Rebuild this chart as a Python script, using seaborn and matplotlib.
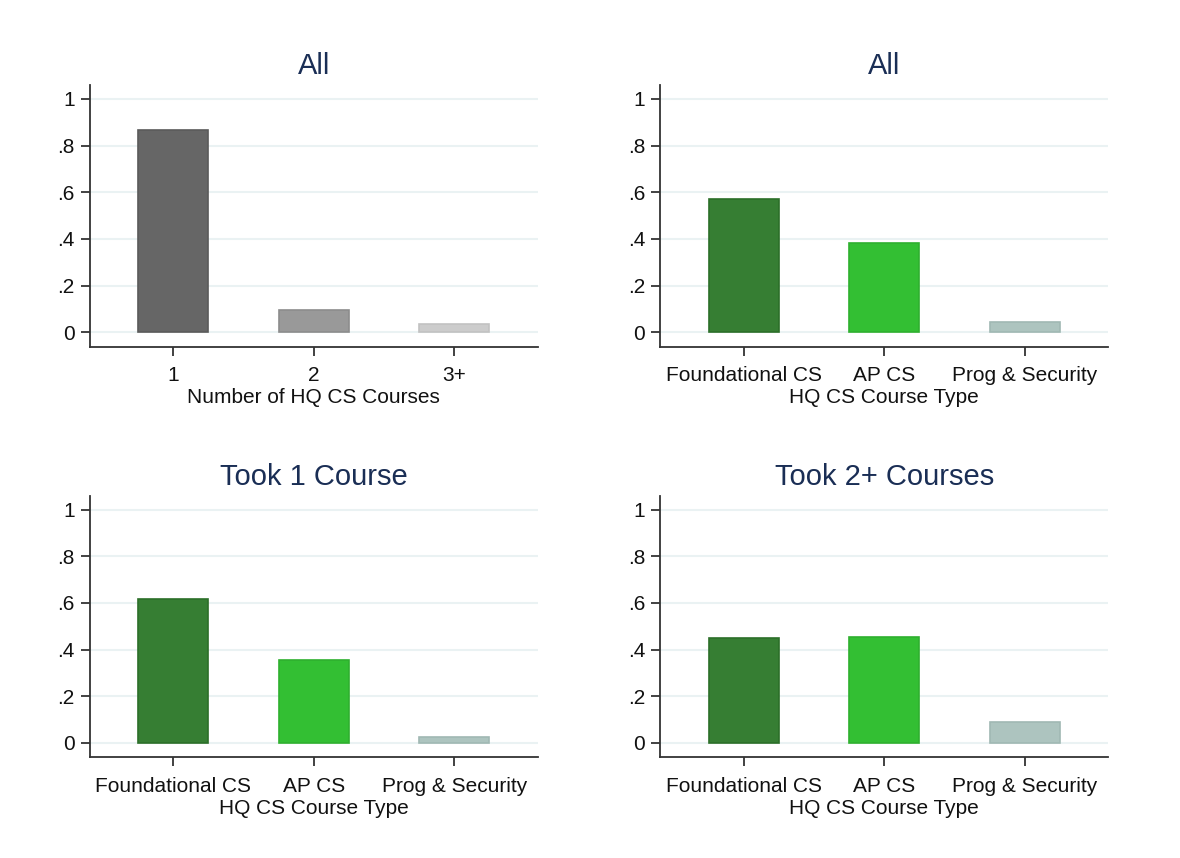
import matplotlib
matplotlib.use("Agg")
import matplotlib.pyplot as plt
import seaborn as sns
import pandas as pd

# values
num_courses = ["1", "2", "3+"]
share_num_all = [0.867, 0.094, 0.037]

course_types = ["Foundational CS", "AP CS", "Prog & Security"]
share_type_all = [0.573, 0.383, 0.043]
share_type_one = [0.616, 0.354, 0.024]
share_type_two_plus = [0.451, 0.456, 0.090]

gray_colors = ["#666666", "#999999", "#cccccc"]
gray_edges = ["#5a5a5a", "#8c8c8c", "#c2c2c2"]
green_colors = ["#367e33", "#33bf33", "#adc4bf"]
green_edges = ["#2c6f29", "#2fb02f", "#a0b8b3"]

sns.set_style("white")
plt.rcParams["font.family"] = ["Liberation Sans", "DejaVu Sans"]

fig = plt.figure(figsize=(11.8, 8.58), dpi=100)

# axes boxes in pixels (left, top, right, bottom)
boxes = [(89.7, 85, 537.7, 346.7), (660.3, 85, 1108.3, 346.7),
         (89.7, 495.7, 537.7, 757.4), (660.3, 495.7, 1108.3, 757.4)]

panels = [
    ("All", num_courses, share_num_all, gray_colors, gray_edges, "Number of HQ CS Courses"),
    ("All", course_types, share_type_all, green_colors, green_edges, "HQ CS Course Type"),
    ("Took 1 Course", course_types, share_type_one, green_colors, green_edges, "HQ CS Course Type"),
    ("Took 2+ Courses", course_types, share_type_two_plus, green_colors, green_edges, "HQ CS Course Type"),
]

W, H = 1180, 858
for (l, t, r, b), (title, cats, vals, cols, edges, xlabel) in zip(boxes, panels):
    ax = fig.add_axes([l / W, 1 - b / H, (r - l) / W, (b - t) / H])
    df = pd.DataFrame({"cat": cats, "val": vals})
    sns.barplot(data=df, x="cat", y="val", hue="cat", palette=cols, legend=False,
                width=0.5, saturation=1, ax=ax, zorder=3)
    for patch, ec in zip(ax.patches, edges):
        patch.set_edgecolor(ec)
        patch.set_linewidth(1.2)
    ax.set_ylim(-0.062, 1.06)
    ax.set_xlim(-0.595, 2.595)
    ax.set_yticks([0, 0.2, 0.4, 0.6, 0.8, 1])
    ax.set_yticklabels(["0", ".2", ".4", ".6", ".8", "1"])
    ax.yaxis.grid(True, color="#eaf2f3", linewidth=1.5, zorder=0)
    ax.xaxis.grid(False)
    for side in ["top", "right"]:
        ax.spines[side].set_visible(False)
    for side in ["left", "bottom"]:
        ax.spines[side].set_color("#333333")
        ax.spines[side].set_linewidth(1.3)
    ax.tick_params(axis="both", which="both", direction="out", length=6.3, width=1.3,
                   bottom=True, left=True, color="#333333", labelsize=15,
                   labelcolor="#111111")
    ax.tick_params(axis="y", pad=4.5)
    ax.tick_params(axis="x", pad=7.5)
    ax.set_xlabel(xlabel, fontsize=15, color="#111111", labelpad=2.5)
    ax.set_ylabel("")
    ax.set_title(title, fontsize=21, color="#1a2e55", pad=8)

fig.savefig("out.png", dpi=100, facecolor="white")
